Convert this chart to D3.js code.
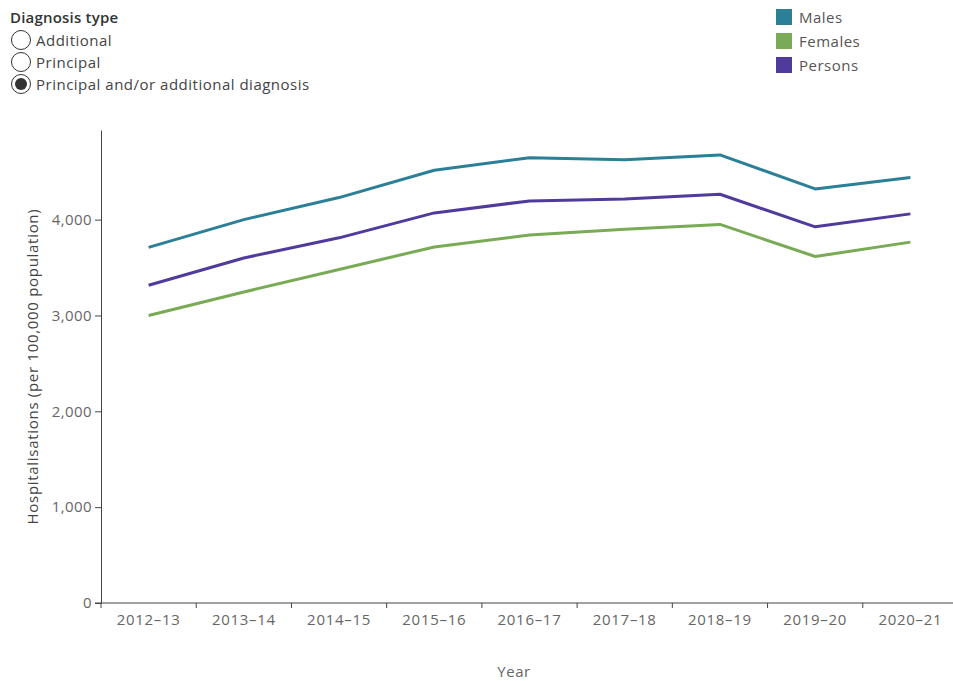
<!DOCTYPE html>
<html>
  <head>
    <meta charset="utf-8" />
    <title>Hospitalisations</title>
    <script src="https://cdn.jsdelivr.net/npm/d3@7"></script>
    <style>
      body { margin: 0; background: #fff; }
      text { font-family: "Open Sans", "Noto Sans", sans-serif; }
    </style>
  </head>
  <body>
    <svg width="953" height="681" id="mainsvg"></svg>
    <script>
      // data
      const years = ["2012–13", "2013–14", "2014–15", "2015–16", "2016–17", "2017–18", "2018–19", "2019–20", "2020–21"];
      const males = [3710, 4000, 4230, 4515, 4645, 4625, 4675, 4320, 4440];
      const females = [3000, 3245, 3480, 3715, 3840, 3900, 3950, 3615, 3765];
      const persons = [3315, 3600, 3810, 4070, 4195, 4215, 4265, 3925, 4060];
      const yTicks = [0, 1000, 2000, 3000, 4000];
      const diagnosisTypes = ["Additional", "Principal", "Principal and/or additional diagnosis"];
      const selectedType = "Principal and/or additional diagnosis";

      const series = [
        { name: "Males", values: males, color: "#2b7f96" },
        { name: "Females", values: females, color: "#79aa55" },
        { name: "Persons", values: persons, color: "#503a9b" },
      ];

      const svg = d3.select("#mainsvg");
      const margin = { left: 101, top: 130, right: -5, bottom: 78 };
      const width = +svg.attr("width");
      const height = +svg.attr("height");

      const x = d3.scaleBand().domain(years).range([margin.left, width - margin.right]);
      const y = d3.scaleLinear().domain([0, 4935]).range([height - margin.bottom, margin.top]);

      // y axis
      const yAxis = svg.append("g")
        .attr("transform", `translate(${margin.left},0)`)
        .call(d3.axisLeft(y).tickValues(yTicks).tickFormat(d3.format(",")).tickSize(6).tickPadding(3).tickSizeOuter(0));
      yAxis.select(".domain").attr("stroke", "#444");
      yAxis.selectAll(".tick line").attr("stroke", "#444");
      yAxis.selectAll(".tick text")
        .attr("fill", "#666")
        .attr("font-size", 15)
        .attr("letter-spacing", 0.4)
        .attr("font-family", "'Open Sans', sans-serif");

      // x axis - ticks at band boundaries
      const xg = svg.append("g").attr("transform", `translate(0,${y(0)})`);
      xg.append("line")
        .attr("x1", margin.left - 6).attr("x2", width)
        .attr("stroke", "#444");
      xg.selectAll(".xtick")
        .data(years)
        .join("line")
        .attr("class", "xtick")
        .attr("x1", (d) => x(d)).attr("x2", (d) => x(d))
        .attr("y1", 0).attr("y2", 5)
        .attr("stroke", "#444");
      xg.selectAll(".xlabel")
        .data(years)
        .join("text")
        .attr("class", "xlabel")
        .attr("x", (d) => x(d) + x.bandwidth() / 2)
        .attr("y", 22)
        .attr("text-anchor", "middle")
        .attr("fill", "#666")
        .attr("font-size", 15)
        .attr("letter-spacing", 0.7)
        .text((d) => d);

      // axis titles
      svg.append("text")
        .attr("transform", `translate(38,${(y(0) + margin.top) / 2}) rotate(-90)`)
        .attr("text-anchor", "middle")
        .attr("fill", "#444")
        .attr("font-size", 15)
        .attr("letter-spacing", 0.7)
        .text("Hospitalisations (per 100,000 population)");
      svg.append("text")
        .attr("x", 514).attr("y", 677)
        .attr("text-anchor", "middle")
        .attr("fill", "#666")
        .attr("font-size", 15)
        .attr("letter-spacing", 0.5)
        .text("Year");

      // lines
      const line = d3.line()
        .x((d, i) => x(years[i]) + x.bandwidth() / 2)
        .y((d) => y(d));
      svg.selectAll(".series")
        .data(series)
        .join("path")
        .attr("class", "series")
        .attr("fill", "none")
        .attr("stroke", (d) => d.color)
        .attr("stroke-width", 3)
        .attr("stroke-linejoin", "round")
        .attr("d", (d) => line(d.values));

      // colour legend (top right)
      const leg = svg.append("g").attr("transform", "translate(776,9)");
      const li = leg.selectAll("g").data(series).join("g")
        .attr("transform", (d, i) => `translate(0,${i * 24})`);
      li.append("rect").attr("width", 16).attr("height", 16).attr("fill", (d) => d.color);
      li.append("text").attr("x", 23).attr("y", 13.5)
        .attr("fill", "#555").attr("font-size", 15).attr("letter-spacing", 0.5)
        .text((d) => d.name);

      // diagnosis type radio legend (top left)
      svg.append("text")
        .attr("x", 10).attr("y", 23)
        .attr("fill", "#333")
        .attr("font-size", 15)
        .attr("font-weight", 600)
        .attr("letter-spacing", 0.2)
        .text("Diagnosis type");
      const radio = svg.append("g").selectAll("g").data(diagnosisTypes).join("g")
        .attr("transform", (d, i) => `translate(0,${40 + i * 22})`);
      radio.append("circle")
        .attr("cx", 21).attr("cy", 0).attr("r", 9.5)
        .attr("fill", "#fff").attr("stroke", "#333").attr("stroke-width", 1);
      radio.filter((d) => d === selectedType).append("circle")
        .attr("cx", 21).attr("cy", 0).attr("r", 6)
        .attr("fill", "#333");
      radio.append("text")
        .attr("x", 36).attr("y", 5.5)
        .attr("fill", "#444")
        .attr("font-size", 15)
        .attr("letter-spacing", 0.5)
        .text((d) => d);
    </script>
  </body>
</html>
